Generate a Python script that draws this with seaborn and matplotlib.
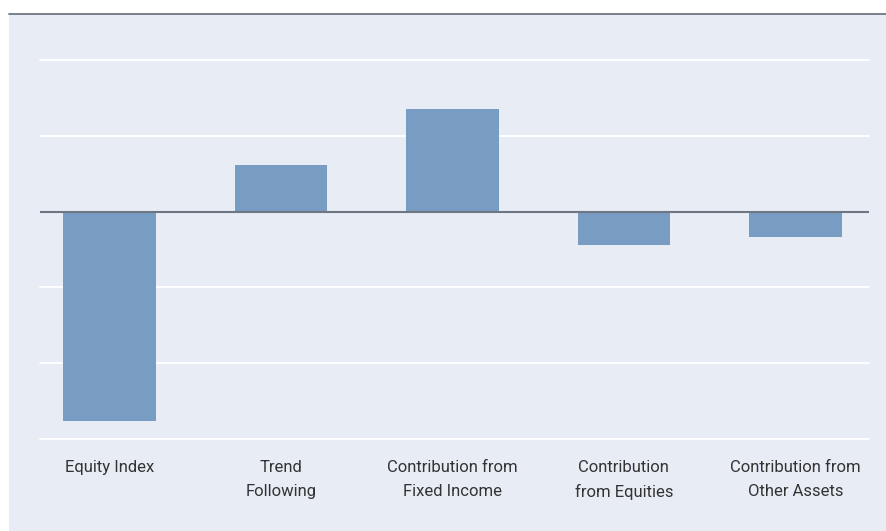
import matplotlib
matplotlib.use("Agg")
import matplotlib.pyplot as plt
from matplotlib.patches import Rectangle
from matplotlib.lines import Line2D
from matplotlib.transforms import blended_transform_factory
import seaborn as sns
import pandas as pd

categories = ["Equity Index", "Trend\nFollowing", "Contribution from\nFixed Income",
              "Contribution\nfrom Equities", "Contribution from\nOther Assets"]
values = [-2.76, 0.62, 1.35, -0.44, -0.34]
grid_levels = [-3, -2, -1, 1, 2]

df = pd.DataFrame({"category": categories, "value": values})

sns.set_theme(style="white")
plt.rcParams['font.family'] = ['Roboto', 'DejaVu Sans']

W, H = 887, 531
fig = plt.figure(figsize=(W / 100, H / 100), dpi=100)
fig.patch.set_facecolor("white")
panel = "#E8ECF5"
fig.patches.append(Rectangle((9 / W, 0), 1 - 9 / W, 1 - 14 / H, transform=fig.transFigure,
                             facecolor=panel, edgecolor="none", zorder=-10))
fig.lines.append(Line2D([9 / W, 1], [1 - 14 / H, 1 - 14 / H], transform=fig.transFigure,
                        color="#6E7682", linewidth=1.3, zorder=-5))

x0, x1 = 40, 869
y0, y1 = 60, 439
ax = fig.add_axes([x0 / W, 1 - y1 / H, (x1 - x0) / W, (y1 - y0) / H])
ax.set_facecolor("none")
ax.set_zorder(5)

sns.barplot(data=df, x="category", y="value", color="#789CC2", saturation=1,
            width=0.54, ax=ax, zorder=3, linewidth=0, edgecolor="none")

ax.set_ylim(-3, 2)
ax.set_xlim(-0.405, 4.43)
for g in grid_levels:
    ax.axhline(g, color="white", linewidth=1.3, zorder=1, clip_on=False)
ax.axhline(0, color="#6E7682", linewidth=1.5, zorder=4)

for s in ax.spines.values():
    s.set_visible(False)
ax.set_yticks([])
ax.set_xticks([])
ax.set_xlabel("")
ax.set_ylabel("")

trans = blended_transform_factory(ax.transData, fig.transFigure)
for i, cat in enumerate(categories):
    for j, line in enumerate(cat.split("\n")):
        ypix = 466 + 24 * j
        ax.text(i, 1 - ypix / H, line, transform=trans, ha="center", va="center_baseline",
                fontsize=12, color="#333333")

fig.savefig("out.png", dpi=100)
